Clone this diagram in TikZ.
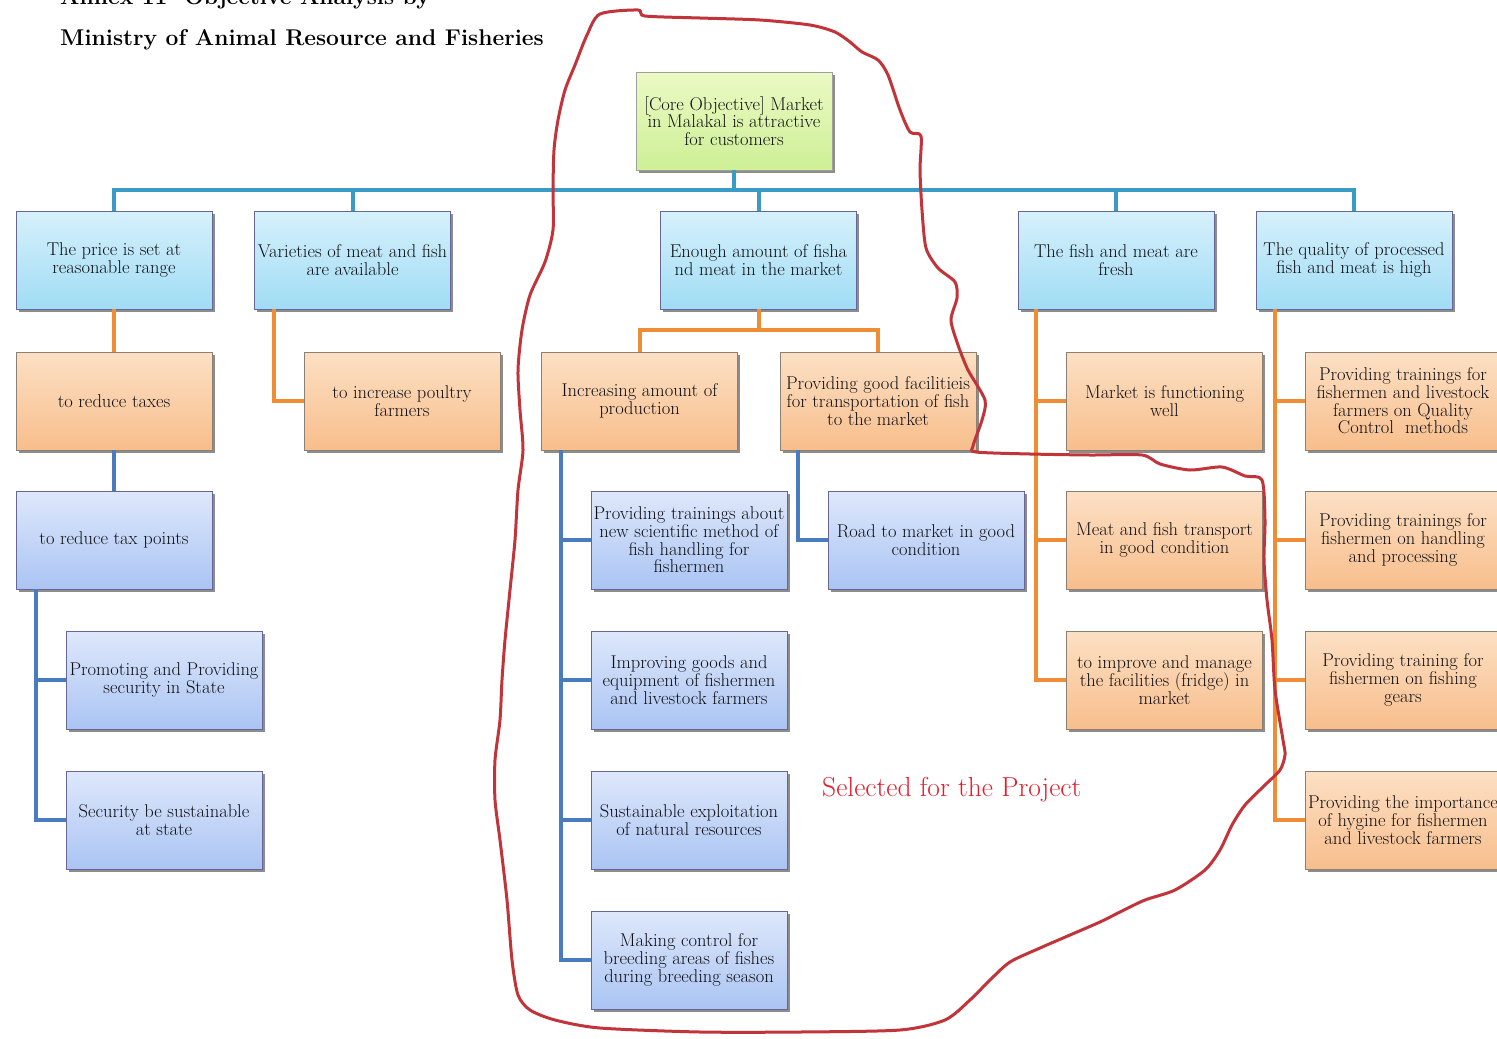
\documentclass[tikz,border=0pt]{standalone}
\usetikzlibrary{shadows,calc}
\definecolor{busteal}{RGB}{58,156,196}
\definecolor{linkorange}{RGB}{240,140,52}
\definecolor{linkblue}{RGB}{72,124,190}
\definecolor{loopred}{RGB}{192,52,58}
\definecolor{selred}{RGB}{226,30,45}
\definecolor{goaltop}{RGB}{236,249,196}
\definecolor{goalbot}{RGB}{205,240,150}
\definecolor{cyantop}{RGB}{214,241,251}
\definecolor{cyanbot}{RGB}{160,220,245}
\definecolor{peachtop}{RGB}{252,224,196}
\definecolor{peachbot}{RGB}{248,190,140}
\definecolor{lavtop}{RGB}{222,232,251}
\definecolor{lavbot}{RGB}{170,196,243}
\definecolor{boxtext}{RGB}{15,15,20}
\tikzset{
  box/.style={rectangle, minimum width=196pt, minimum height=98pt, inner sep=0pt,
    align=center, line width=0.8pt, text=boxtext,
    font=\fontsize{18.5}{17.7}\selectfont,
    drop shadow={shadow xshift=2.5pt, shadow yshift=-3pt, opacity=0.45, fill=black}},
  corebox/.style={box, top color=goaltop, bottom color=goalbot, draw=gray!75},
  aimbox/.style={box, top color=cyantop, bottom color=cyanbot, draw=gray!80!blue},
  meansbox/.style={box, top color=peachtop, bottom color=peachbot, draw=gray!80!brown},
  subbox/.style={box, top color=lavtop, bottom color=lavbot, draw=gray!80!blue},
  busline/.style={draw=busteal, line width=4pt},
  orangelink/.style={draw=linkorange, line width=4pt},
  bluelink/.style={draw=linkblue, line width=4pt},
  redloop/.style={draw=loopred, line width=3pt, line join=round},
  heading/.style={anchor=base west, inner sep=0pt, font=\fontsize{22.8}{26}\selectfont\bfseries},
}
\begin{document}
\begin{tikzpicture}[x=1pt, y=-1pt]
\useasboundingbox (0,0) rectangle (1497,1039);
\clip (0,0) rectangle (1497,1039);
\fill[white] (0,0) rectangle (1497,1039);

% heading
\node[heading] (head1) at (60,4) {Annex 11- Objective Analysis by};
\node[heading] (head2) at (60,45) {Ministry of Animal Resource and Fisheries};

% core objective
\node[corebox] (core) at (734,121) {[Core Objective] Market\\in Malakal is attractive\\for customers};

% second level
\node[aimbox] (pA) at (114,260) {The price is set at\\reasonable range};
\node[aimbox] (pB) at (352.5,260) {Varieties of meat and fish\\are available};
\node[aimbox] (pC) at (758.5,260) {Enough amount of fisha\\nd meat in the market};
\node[aimbox] (pD) at (1116,260) {The fish and meat are\\fresh};
\node[aimbox] (pE) at (1354,260) {The quality of processed\\fish and meat is high};

% third level
\node[meansbox] (a1) at (114,401) {to reduce taxes};
\node[meansbox] (b1) at (402,401) {to increase poultry\\farmers};
\node[meansbox] (c1) at (639.5,401) {Increasing amount of\\production};
\node[meansbox] (c2) at (878,401) {Providing good facilitieis\\for transportation of fish\\to the market};
\node[meansbox] (d1) at (1164.5,401) {Market is functioning\\well};
\node[meansbox] (e1) at (1403,401) {Providing trainings for\\fishermen and livestock\\farmers on Quality\\Control\ \ methods};

% fourth level
\node[subbox] (a2) at (114,540) {to reduce tax points};
\node[subbox] (c1a) at (689,540) {Providing trainings about\\new scientific method of\\fish handling for\\fishermen};
\node[subbox] (c2a) at (926,540) {Road to market in good\\condition};
\node[meansbox] (d2) at (1164.5,540) {Meat and fish transport\\in good condition};
\node[meansbox] (e2) at (1403,540) {Providing trainings for\\fishermen on handling\\and processing};

% fifth level
\node[subbox] (a3) at (164,680) {Promoting and Providing\\security in State};
\node[subbox] (c1b) at (689,680) {Improving goods and\\equipment of fishermen\\and livestock farmers};
\node[meansbox] (d3) at (1164.5,680) {to improve and manage\\the facilities (fridge) in\\market};
\node[meansbox] (e3) at (1403,680) {Providing training for\\fishermen on fishing\\gears};

% sixth level
\node[subbox] (a4) at (164,820) {Security be sustainable\\at state};
\node[subbox] (c1c) at (689,820) {Sustainable exploitation\\of natural resources};
\node[meansbox] (e4) at (1403,820) {Providing the importance\\of hygine for fishermen\\and livestock farmers};

% seventh level
\node[subbox] (c1d) at (689,960) {Making control for\\breeding areas of fishes\\during breeding season};

% connectors
\coordinate (bus) at (0,190);
\foreach \t in {pA,pB,pC,pD,pE}
  \draw[busline] (core.south) -- (core.south |- bus) -| (\t.north);

\draw[orangelink] (pA.south) -- (a1.north);
\draw[bluelink] (a1.south) -- (a2.north);
\foreach \t in {a3,a4}
  \draw[bluelink] ($(a2.south west)+(20,0)$) |- (\t.west);

\draw[orangelink] ($(pB.south west)+(20,0)$) |- (b1.west);

\foreach \t in {c1,c2}
  \draw[orangelink] (pC.south) -- ($(pC.south)+(0,21)$) -| (\t.north);
\foreach \t in {c1a,c1b,c1c,c1d}
  \draw[bluelink] ($(c1.south west)+(20,0)$) |- (\t.west);
\draw[bluelink] ($(c2.south west)+(18,0)$) |- (c2a.west);

\foreach \t in {d1,d2,d3}
  \draw[orangelink] ($(pD.south west)+(18,0)$) |- (\t.west);
\foreach \t in {e1,e2,e3,e4}
  \draw[orangelink] ($(pE.south west)+(19,0)$) |- (\t.west);

% selection outline
\draw[redloop] plot[smooth cycle, tension=0.45] coordinates {
 (600,14) (638,10) (645,16) (700,18) (760,20) (810,25) (835,32) (850,42)
 (862,52) (878,60) (888,75) (900,110) (910,132) (921,136) (920,170) (922,210)
 (926,248) (938,268) (955,282) (957,298) (951,320) (958,345) (968,370) (985,400)
 (982,420) (973,446) (976,452) (1030,454) (1090,455) (1142,455) (1160,464)
 (1190,470) (1222,467) (1245,476) (1262,480) (1265,520) (1264,560) (1267,600)
 (1272,640) (1275,690) (1283,740) (1285,755) (1280,770) (1265,785) (1245,805)
 (1232,825) (1220,850) (1205,870) (1175,890) (1145,900) (1120,912) (1100,922)
 (1070,935) (1040,948) (1010,962) (990,980) (970,1000) (945,1020) (900,1030)
 (800,1032) (700,1032) (600,1028) (555,1020) (530,1010) (518,995) (512,960)
 (507,900) (500,840) (495,800) (495,760) (500,720) (502,680) (505,640)
 (510,590) (515,540) (518,490) (523,450) (520,410) (518,370) (522,330)
 (530,295) (545,262) (553,230) (553,190) (554,150) (558,120) (565,90)
 (575,65) (587,35)};

\node[anchor=base west, inner sep=0pt, text=selred, font=\fontsize{27.5}{31}\selectfont] (sel) at (822,796) {Selected for the Project};
\end{tikzpicture}
\end{document}
